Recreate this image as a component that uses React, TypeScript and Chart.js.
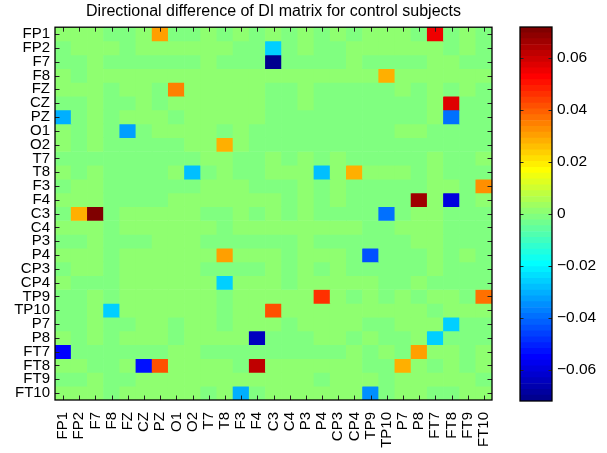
import React, { useEffect, useRef } from 'react';
import { Chart, registerables } from 'chart.js';

Chart.register(...registerables);

const TITLE = 'Directional difference of DI matrix for control subjects';

const CHANNELS = [
  'FP1', 'FP2', 'F7', 'F8', 'FZ', 'CZ', 'PZ', 'O1', 'O2', 'T7', 'T8', 'F3', 'F4', 'C3',
  'C4', 'P3', 'P4', 'CP3', 'CP4', 'TP9', 'TP10', 'P7', 'P8', 'FT7', 'FT8', 'FT9', 'FT10',
];

// Background shading of each cell, row by row (Y = slightly positive, G = slightly negative)
const SHADE = [
  'YYYGGYYGGYGYGYGYGYGYYYGYGYG',
  'GYYYGYYYYYYGGYGYGGYYYYYYGYG',
  'GGYGGGGGGYGGGYGGGGYGGGGYYGG',
  'YGYYYYYYYYYYYYYYYYYYYYYYYYY',
  'YYYGYYGYYYYYYGGYGGGGGYGYGYG',
  'GGYGGYGYYYYYYGGYGGGGGGGYYGG',
  'YGYGYYYGYYYYYGGGGGGGGGGYYGG',
  'YGYGYGYYYYGYGGGGGGGGGYYGGGG',
  'YGYGGGGGYYYYGGGGGGGGGGGGGGG',
  'GGGGGGGGGYYGGYGYGYGGGGGYGGY',
  'YGYGGGGYYGYGGYYYYYYYYYGYGGG',
  'GYYGGGGGGYYYGGGYGYGGGGGYYGY',
  'YYYGGGGYYYYYYYGYGYGGGGYYYGY',
  'GYYGYYYYYGGYGYGYGGGGYGYYGGG',
  'YYYGYYYYYYGYYYYYYYYGGYYYGGG',
  'GGYGGGYYYGGGGGGYGGGGGGYYGGG',
  'YYYGYYYYYYYYYYGYYYGYGGGYGYG',
  'GYYGYYYYYGGGGYGYGYGGGGGYGGG',
  'YGGGYYYYYYYYYYGYYYYYGGYGGGG',
  'GGYGYYYYYYGYYYYYYYGYGYGYYGY',
  'GGYYYYYYYYGYYYYYYYYYYYYGYYY',
  'GGYGGYYGYYGYYYGYYYYGGYYYYGG',
  'YGYGYYYGYYYYYGGGYYGYGGYYGGG',
  'YGGGGGGYYGGGGGGGGGYGYGYYYGY',
  'YYGGYYYYYYYGYYYYYYYGGYYGYGY',
  'GGYGGYYYYYYYYYYYGYYYGYYYYYG',
  'YYYGYYYYYGYYGYYYYYYYGYYGGYY',
];

const WEAK_POS = 0.002;
const WEAK_NEG = -0.001;

// Strong cells: [row, column, value]
const PEAKS: [number, number, number][] = [
  [0, 6, 0.030], [0, 23, 0.055],
  [1, 13, -0.027],
  [2, 13, -0.070],
  [3, 20, 0.027],
  [4, 7, 0.034],
  [5, 24, 0.057],
  [6, 0, -0.030], [6, 24, -0.040],
  [7, 4, -0.032],
  [8, 10, 0.029],
  [10, 8, -0.028], [10, 16, -0.029], [10, 18, 0.027],
  [11, 26, 0.032],
  [12, 22, 0.066], [12, 24, -0.059],
  [13, 1, 0.029], [13, 2, 0.071], [13, 20, -0.039],
  [16, 10, 0.031], [16, 19, -0.045],
  [18, 10, -0.026],
  [19, 16, 0.047], [19, 26, 0.038],
  [20, 3, -0.026], [20, 13, 0.041],
  [21, 24, -0.026],
  [22, 12, -0.063], [22, 23, -0.027],
  [23, 0, -0.056], [23, 22, 0.030],
  [24, 5, -0.053], [24, 6, 0.042], [24, 12, 0.062], [24, 21, 0.027],
  [26, 11, -0.030], [26, 19, -0.036],
];

const CLIM_MIN = -0.072;
const CLIM_MAX = 0.072;
const CBAR_TICKS = [-0.06, -0.04, -0.02, 0, 0.02, 0.04, 0.06];
const NLEVELS = 64;

const FONT = "'Liberation Sans', Arial, Helvetica, sans-serif";

// MATLAB jet(64)
function jetU(i: number): number {
  if (i < 0 || i > 46) return 0;
  if (i < 16) return (i + 1) / 16;
  if (i < 31) return 1;
  return (47 - i) / 16;
}
function jetColor(k: number): string {
  const r = jetU(k - 24), g = jetU(k - 8), b = jetU(k + 8);
  return `rgb(${Math.round(r * 255)},${Math.round(g * 255)},${Math.round(b * 255)})`;
}
function levelOf(v: number): number {
  const k = Math.floor(((v - CLIM_MIN) / (CLIM_MAX - CLIM_MIN)) * NLEVELS);
  return Math.max(0, Math.min(NLEVELS - 1, k));
}

function buildMatrix(): number[][] {
  const m = SHADE.map((row) => row.split('').map((ch) => (ch === 'Y' ? WEAK_POS : WEAK_NEG)));
  PEAKS.forEach(([r, c, v]) => { m[r][c] = v; });
  return m;
}

const fmt = (v: number) => (v === 0 ? '0' : (v < 0 ? '\u2212' : '') + Math.abs(v).toFixed(2));

const heatFrame = {
  id: 'heatFrame',
  afterDatasetsDraw(chart: any) {
    const { ctx, chartArea: a, scales } = chart;
    const x = scales.x, y = scales.y;
    ctx.save();
    ctx.strokeStyle = '#222';
    ctx.lineWidth = 1;
    ctx.beginPath();
    for (let i = 0; i < CHANNELS.length; i++) {
      const px = Math.round(x.getPixelForValue(i)) + 0.5;
      ctx.moveTo(px, a.bottom); ctx.lineTo(px, a.bottom - 4.5);
      ctx.moveTo(px, a.top); ctx.lineTo(px, a.top + 4.5);
      const py = Math.round(y.getPixelForValue(i)) + 0.5;
      ctx.moveTo(a.left, py); ctx.lineTo(a.left + 4.5, py);
      ctx.moveTo(a.right, py); ctx.lineTo(a.right - 4.5, py);
    }
    ctx.stroke();
    ctx.strokeStyle = '#000';
    ctx.lineWidth = 1.3;
    ctx.strokeRect(a.left, a.top, a.right - a.left, a.bottom - a.top);
    ctx.restore();
  },
};

const cbarFrame = {
  id: 'cbarFrame',
  afterDatasetsDraw(chart: any) {
    const { ctx, chartArea: a, scales } = chart;
    const y = scales.y;
    ctx.save();
    ctx.strokeStyle = '#222';
    ctx.lineWidth = 1;
    ctx.beginPath();
    CBAR_TICKS.forEach((t) => {
      const py = Math.round(y.getPixelForValue(t)) + 0.5;
      ctx.moveTo(a.left, py); ctx.lineTo(a.left + 3.5, py);
      ctx.moveTo(a.right, py); ctx.lineTo(a.right - 3.5, py);
    });
    ctx.stroke();
    ctx.strokeStyle = '#000';
    ctx.lineWidth = 1.3;
    ctx.strokeRect(a.left, a.top, a.right - a.left, a.bottom - a.top);
    ctx.restore();
  },
};

export default function App() {
  const heatRef = useRef<HTMLCanvasElement>(null);
  const cbarRef = useRef<HTMLCanvasElement>(null);

  useEffect(() => {
    const matrix = buildMatrix();
    const heatDatasets = matrix.map((row, r) => ({
      label: CHANNELS[r],
      data: row.map(() => [r - 0.5, r + 0.5]),
      backgroundColor: row.map((v) => jetColor(levelOf(v))),
      borderWidth: 0,
      grouped: false,
      barPercentage: 1,
      categoryPercentage: 1,
    }));

    const heat = new Chart(heatRef.current!, {
      type: 'bar',
      data: { labels: CHANNELS, datasets: heatDatasets as any },
      options: {
        animation: false,
        responsive: false,
        maintainAspectRatio: false,
        layout: { padding: { left: 0, right: 115, top: 0, bottom: 0 } },
        plugins: {
          legend: { display: false },
          tooltip: { enabled: false },
          title: {
            display: true,
            text: TITLE,
            fullSize: false,
            color: '#000',
            font: { family: FONT, size: 16, weight: 'normal' },
            padding: { top: 2, bottom: 6 },
          },
        },
        scales: {
          x: {
            type: 'category',
            offset: true,
            grid: { display: false, drawTicks: false },
            border: { display: false },
            ticks: {
              autoSkip: false,
              minRotation: 90,
              maxRotation: 90,
              padding: 12,
              color: '#000',
              font: { family: FONT, size: 15 },
            },
            afterFit: (s: any) => { s.height = 53; },
          },
          y: {
            type: 'linear',
            min: -0.5,
            max: 26.5,
            reverse: true,
            grid: { display: false, drawTicks: false },
            border: { display: false },
            afterBuildTicks: (s: any) => { s.ticks = CHANNELS.map((_, i) => ({ value: i })); },
            ticks: {
              autoSkip: false,
              padding: 5,
              color: '#000',
              font: { family: FONT, size: 15 },
              callback: (v: any) => CHANNELS[Number(v)],
            },
            afterFit: (s: any) => { s.width = 55; },
          },
        },
      } as any,
      plugins: [heatFrame],
    });

    const step = (CLIM_MAX - CLIM_MIN) / NLEVELS;
    const cbarDatasets = Array.from({ length: NLEVELS }, (_, k) => ({
      label: 'level ' + k,
      data: [[CLIM_MIN + k * step, CLIM_MIN + (k + 1) * step]],
      backgroundColor: jetColor(k),
      borderWidth: 0,
      grouped: false,
      barPercentage: 1,
      categoryPercentage: 1,
    }));

    const cbar = new Chart(cbarRef.current!, {
      type: 'bar',
      data: { labels: [''], datasets: cbarDatasets as any },
      options: {
        animation: false,
        responsive: false,
        maintainAspectRatio: false,
        layout: { padding: { left: 520, right: 0, top: 27, bottom: 52 } },
        plugins: { legend: { display: false }, tooltip: { enabled: false }, title: { display: false } },
        scales: {
          x: { display: false, offset: true },
          y: {
            type: 'linear',
            position: 'right',
            min: CLIM_MIN,
            max: CLIM_MAX,
            grid: { display: false, drawTicks: false },
            border: { display: false },
            afterBuildTicks: (s: any) => { s.ticks = CBAR_TICKS.map((v) => ({ value: v })); },
            ticks: {
              autoSkip: false,
              padding: 5,
              color: '#000',
              font: { family: FONT, size: 15.5 },
              callback: (v: any) => fmt(Number(v)),
            },
            afterFit: (s: any) => { s.width = 55; },
          },
        },
      } as any,
      plugins: [cbarFrame],
    });

    return () => { heat.destroy(); cbar.destroy(); };
  }, []);

  return (
    <div style={{ position: 'absolute', left: 0, top: 0, width: 607, height: 453, background: '#fff' }}>
      <canvas ref={heatRef} width={607} height={453} style={{ position: 'absolute', left: 0, top: 0 }} />
      <canvas ref={cbarRef} width={607} height={453} style={{ position: 'absolute', left: 0, top: 0 }} />
    </div>
  );
}
